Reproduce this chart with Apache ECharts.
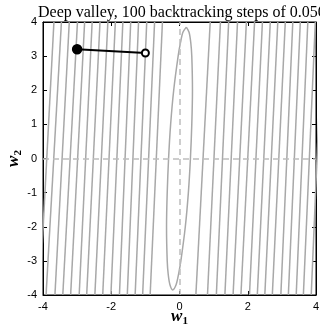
<!DOCTYPE html>
<html>
<head>
<meta charset="utf-8">
<script src="https://cdn.jsdelivr.net/npm/echarts@6/dist/echarts.min.js"></script>
<style>
  html, body { margin: 0; padding: 0; background: #fff; }
  #chart { width: 320px; height: 333px; }
</style>
</head>
<body>
<div id="chart"></div>
<script>
// contour lines, read as [w1 at w2=-4, w1 at w2=4]
const contourLeft = [
  [-4.10, -3.68], [-3.91, -3.46], [-3.65, -3.23], [-3.42, -2.99], [-3.19, -2.78],
  [-2.94, -2.56], [-2.72, -2.33], [-2.48, -2.10], [-2.25, -1.88], [-2.01, -1.66],
  [-1.76, -1.43], [-1.53, -1.20], [-1.30, -0.96], [-1.08, -0.73], [-0.86, -0.50]
];
const contourRight = [
  [0.48, 0.90], [0.82, 1.20], [1.08, 1.44], [1.33, 1.70], [1.57, 1.96],
  [1.80, 2.20], [2.05, 2.43], [2.28, 2.66], [2.50, 2.88], [2.72, 3.10],
  [2.97, 3.32], [3.19, 3.54], [3.42, 3.76], [3.63, 3.98], [3.86, 4.20]
];
// innermost ellipse
const ellipseW1 = [0.20, 0.28, 0.33, 0.36, 0.38, 0.36, 0.32, 0.26, 0.17, 0.04, -0.03, -0.10, -0.20,
  -0.28, -0.33, -0.36, -0.38, -0.36, -0.32, -0.26, -0.17, -0.04, 0.03, 0.10, 0.20];
const ellipseW2 = [3.85, 3.7, 3.4, 3.0, 2.0, 1.0, 0, -1, -2, -3, -3.4, -3.7, -3.85,
  -3.7, -3.4, -3.0, -2.0, -1.0, 0, 1, 2, 3, 3.4, 3.7, 3.85];
// descent path
const pathW1 = [-1.0, -3.0];
const pathW2 = [3.09, 3.2];
const xTicks = [-4, -2, 0, 2, 4];
const yTicks = [-4, -3, -2, -1, 0, 1, 2, 3, 4];

const chart = echarts.init(document.getElementById('chart'));

const grey = '#a8a8a8';
const series = [];
contourLeft.concat(contourRight).forEach(function (c) {
  series.push({
    type: 'line', silent: true, symbol: 'none',
    data: [[c[0], -4], [c[1], 4]],
    lineStyle: { color: grey, width: 1.5 }
  });
});
series.push({
  type: 'line', silent: true, symbol: 'none', smooth: 0.3,
  data: ellipseW1.map(function (v, i) { return [v, ellipseW2[i]]; }),
  lineStyle: { color: grey, width: 1.5 }
});
// dashed zero lines
series.push({
  type: 'line', silent: true, symbol: 'none', data: [],
  markLine: {
    silent: true, symbol: 'none', label: { show: false },
    lineStyle: { color: '#bdbdbd', width: 1.5, type: [6, 4] },
    data: [{ xAxis: 0 }, { yAxis: 0 }]
  }
});
series.push({
  type: 'line', silent: true, z: 5,
  data: [
    { value: [pathW1[0], pathW2[0]], symbol: 'emptyCircle', symbolSize: 7 },
    { value: [pathW1[1], pathW2[1]], symbol: 'circle', symbolSize: 9 }
  ],
  lineStyle: { color: '#000', width: 2 },
  itemStyle: { color: '#000', borderColor: '#000', borderWidth: 1.5 }
});

const nameRich = {
  w: { fontFamily: 'Liberation Serif', fontStyle: 'italic', fontWeight: 'bold', fontSize: 17, color: '#000', lineHeight: 18 },
  s: { fontFamily: 'Liberation Serif', fontWeight: 'bold', fontSize: 11, color: '#000', lineHeight: 12, padding: [8, 0, 0, 0] }
};
const tickLabel = { fontFamily: 'Liberation Sans', fontSize: 11, color: '#000' };

chart.setOption({
  animation: false,
  backgroundColor: '#fff',
  title: {
    text: 'Deep valley, 100 backtracking steps of 0.050',
    left: 33, top: 0,
    textStyle: { fontFamily: 'Liberation Serif', fontWeight: 'normal', fontSize: 16, color: '#000' }
  },
  grid: {
    left: 43, right: 4, top: 22, bottom: 38, outerBoundsMode: 'none', containLabel: false,
    show: true, borderColor: '#000', borderWidth: 1, backgroundColor: 'transparent'
  },
  xAxis: [{
    type: 'value', min: -4, max: 4, interval: 2,
    axisLine: { show: true, onZero: false, lineStyle: { color: '#000' } },
    axisTick: { inside: true, length: 4, lineStyle: { color: '#000' } },
    axisLabel: Object.assign({ margin: 6, customValues: xTicks }, tickLabel),
    splitLine: { show: false },
    name: '{w|w}{s|1}', nameLocation: 'middle', nameGap: 13, nameMoveOverlap: false,
    nameTextStyle: { rich: nameRich }
  }, {
    type: 'value', min: -4, max: 4, interval: 2, position: 'top',
    axisLine: { show: true, onZero: false, lineStyle: { color: '#000' } },
    axisTick: { inside: true, length: 4, lineStyle: { color: '#000' } },
    axisLabel: { show: false }, splitLine: { show: false }
  }],
  yAxis: [{
    type: 'value', min: -4, max: 4, interval: 1,
    axisLine: { show: true, onZero: false, lineStyle: { color: '#000' } },
    axisTick: { inside: true, length: 4, lineStyle: { color: '#000' } },
    axisLabel: Object.assign({ margin: 6, customValues: yTicks }, tickLabel),
    splitLine: { show: false },
    name: '{w|w}{s|2}', nameLocation: 'middle', nameGap: 20, nameRotate: 90, nameMoveOverlap: false,
    nameTextStyle: { rich: nameRich }
  }, {
    type: 'value', min: -4, max: 4, interval: 1, position: 'right',
    axisLine: { show: true, onZero: false, lineStyle: { color: '#000' } },
    axisTick: { inside: true, length: 4, lineStyle: { color: '#000' } },
    axisLabel: { show: false }, splitLine: { show: false }
  }],
  series: series
});
</script>
</body>
</html>
